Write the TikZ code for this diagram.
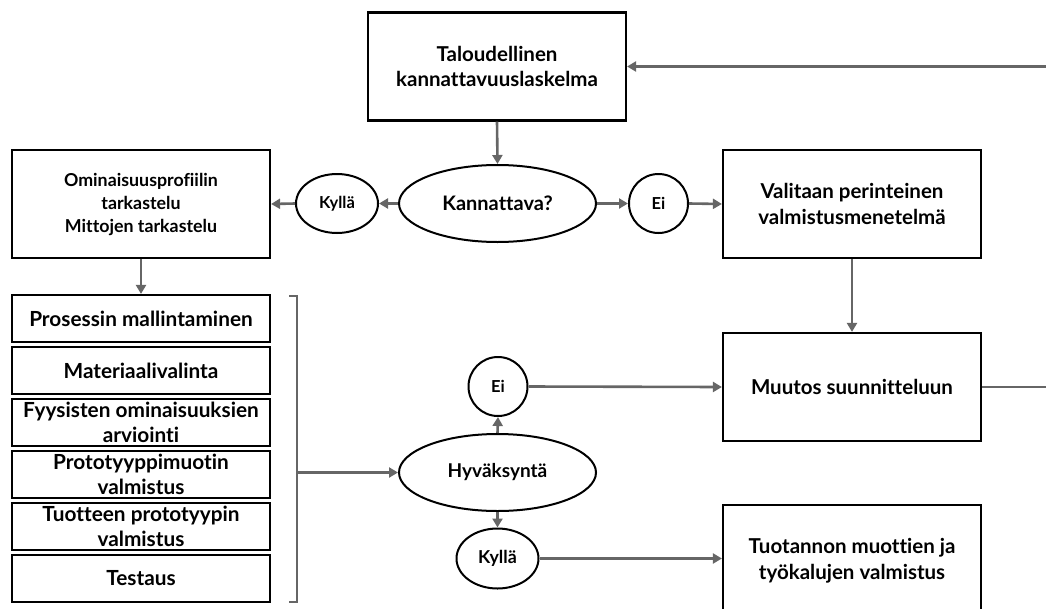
\documentclass[tikz,border=0pt]{standalone}
\usepackage{fontspec}
\setmainfont{Lato}[Ligatures={NoCommon}]
\usetikzlibrary{shapes.geometric,arrows.meta}
\tikzset{
  box/.style={draw=black,line width=2.2pt,rectangle,minimum width=258pt,minimum height=108pt,inner sep=0pt,align=center,font=\bfseries\fontsize{20.5}{25.5}\selectfont},
  sbox/.style={draw=black,line width=2.2pt,rectangle,minimum width=258pt,minimum height=47pt,inner sep=0pt,align=center,font=\bfseries\fontsize{20.8}{25}\selectfont},
  oval/.style={draw=black,line width=2pt,ellipse,inner sep=0pt,align=center},
  conn/.style={draw=black!60,line width=2.6pt,-{Triangle[length=9pt,width=10pt]}},
  plain/.style={draw=black!60,line width=2.6pt}
}
\begin{document}
\begin{tikzpicture}[x=1pt,y=-1pt]
\useasboundingbox (0,0) rectangle (1046,608);
\node[box] (tal) at (497,66.5) {Taloudellinen\\kannattavuuslaskelma};
\node[oval,minimum width=197pt,minimum height=77pt,font=\bfseries\fontsize{20}{23}\selectfont] (kan) at (497.5,203.5) {Kannattava?};
\node[oval,minimum width=82pt,minimum height=59pt,font=\bfseries\fontsize{16.5}{20}\selectfont] (kyl1) at (337,203.5) {Kyllä};
\node[box,font=\bfseries\fontsize{17.8}{23}\selectfont] (omi) at (141,204) {Ominaisuusprofiilin\\tarkastelu\\Mittojen tarkastelu};
\node[oval,circle,minimum size=59pt,font=\bfseries\fontsize{16.5}{20}\selectfont] (ei1) at (658.5,203.5) {Ei};
\node[box] (val) at (852,204) {Valitaan perinteinen\\valmistusmenetelmä};
\node[box] (muu) at (852,387) {Muutos suunnitteluun};
\node[box,text depth=0pt] (tuo) at (852,559) {Tuotannon muottien ja\\työkalujen valmistus};
\node[sbox] (s1) at (141,318.5) {Prosessin mallintaminen};
\node[sbox] (s2) at (141,370.5) {Materiaalivalinta};
\node[sbox] (s3) at (141,422.5) {Fyysisten ominaisuuksien\\arviointi};
\node[sbox] (s4) at (141,474.5) {Prototyyppimuotin\\valmistus};
\node[sbox] (s5) at (141,526.5) {Tuotteen prototyypin\\valmistus};
\node[sbox] (s6) at (141,578.5) {Testaus};
\node[oval,minimum width=197pt,minimum height=77pt,font=\bfseries\fontsize{19}{23}\selectfont] (hyv) at (497.5,472.5) {Hyväksyntä};
\node[oval,circle,minimum size=59pt,font=\bfseries\fontsize{16.5}{20}\selectfont] (ei2) at (498,386.5) {Ei};
\node[oval,minimum width=82pt,minimum height=60pt,font=\bfseries\fontsize{17.8}{20}\selectfont] (kyl2) at (497.5,558.5) {Kyllä};
\coordinate (b1) at (289,296);
\coordinate (b2) at (297,296);
\coordinate (b3) at (297,602);
\coordinate (b4) at (289,602);
\coordinate (bm) at (297,472.5);
\coordinate (r1) at (1046,66.5);
\coordinate (r2) at (1046,387);
\draw[plain] (b1) -- (b2) -- (b3) -- (b4);
\draw[conn] (bm) -- (hyv.west);
\draw[conn] (r1) -- (tal.east);
\draw[plain] (muu.east) -- (r2);
\draw[conn] (tal.south) -- (kan.north);
\draw[conn] (kan.west) -- (kyl1.east);
\draw[conn] (kyl1.west) -- (omi.east);
\draw[conn] (kan.east) -- (ei1.west);
\draw[conn] (ei1.east) -- (val.west);
\draw[conn] (omi.south) -- (s1.north);
\draw[conn] (val.south) -- (muu.north);
\draw[conn] (ei2.east) -- (muu.west);
\draw[conn] (hyv.north) -- (ei2.south);
\draw[conn] (hyv.south) -- (kyl2.north);
\draw[conn] (kyl2.east) -- (kyl2.east -| tuo.west);
\end{tikzpicture}
\end{document}
